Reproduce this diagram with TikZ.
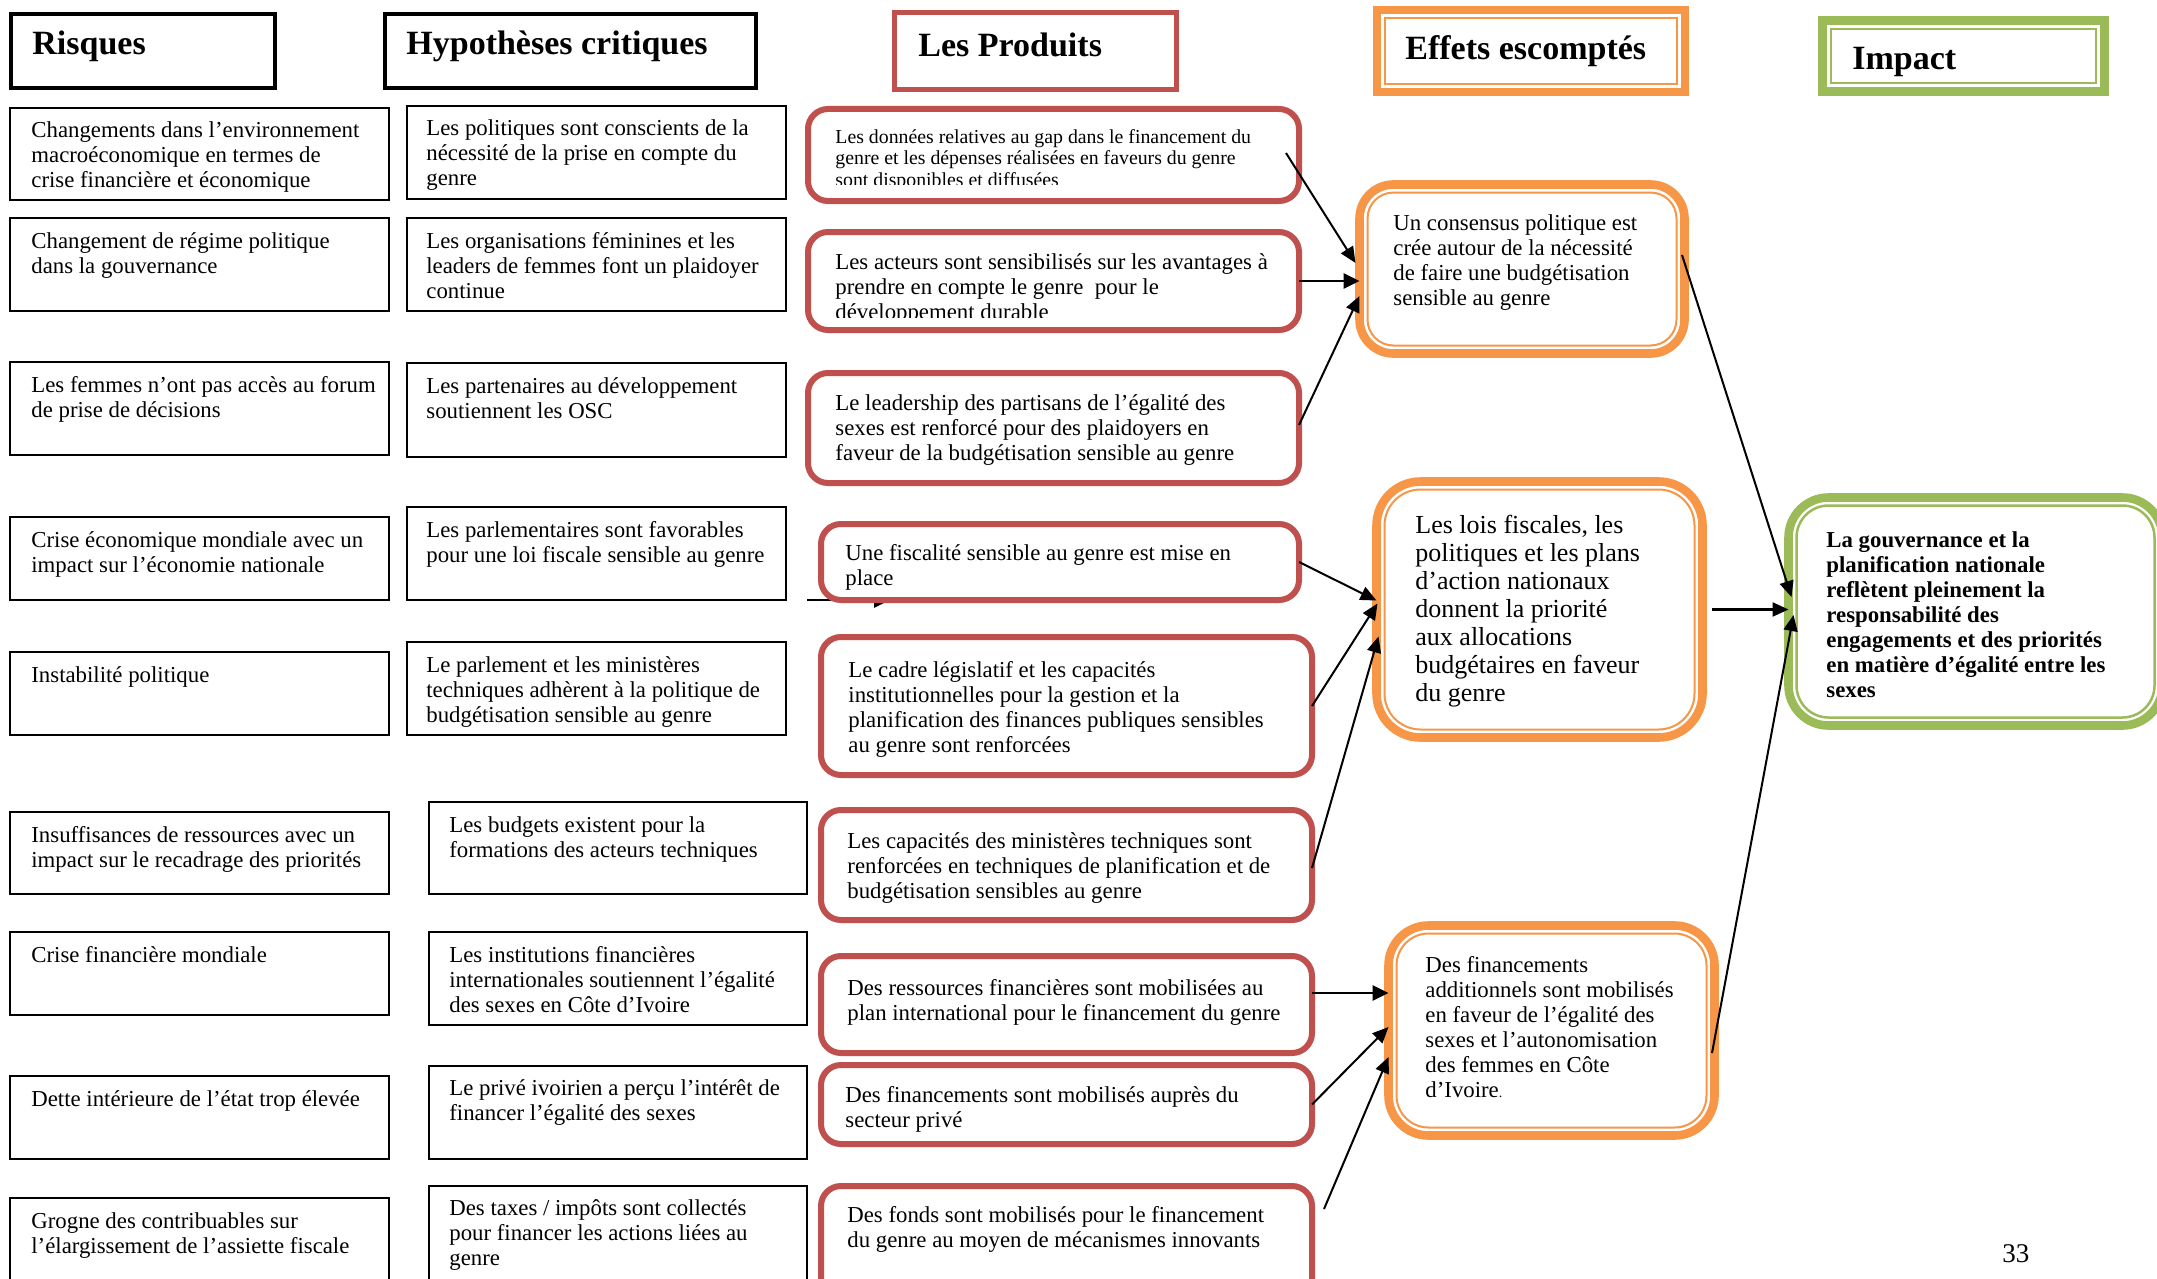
\documentclass[tikz,border=0pt]{standalone}
\usepackage{fontspec}
\setmainfont{Liberation Serif}
\usetikzlibrary{fit,arrows.meta}
\definecolor{pred}{HTML}{C0504D}
\definecolor{porange}{HTML}{F79646}
\definecolor{pgreen}{HTML}{9BBB59}
\newcommand{\fA}{\fontsize{11.4}{12.5}\selectfont}
\newcommand{\fP}{\fontsize{9.9}{10.75}\selectfont}
\newcommand{\fE}{\fontsize{13}{14}\selectfont}
\newcommand{\fH}{\fontsize{17}{20}\selectfont\bfseries}
\begin{document}
\begin{tikzpicture}[x=0.5pt,y=-0.5pt,
  bx/.style={inner sep=0pt, outer sep=0pt},
  headbox/.style={bx, draw=black, line width=2pt},
  blackbox/.style={bx, draw=black, line width=1.25pt, fill=white},
  prodbox/.style={bx, draw=pred, line width=3pt, rounded corners=10pt, fill=white},
  effbox/.style={bx, draw=porange, line width=4.3pt, fill=white},
  impbox/.style={bx, draw=pgreen, line width=4.3pt, fill=white},
  txt/.style={anchor=north west, inner sep=0pt, align=left, font=\fA},
  head/.style={anchor=base west, inner sep=0pt, font=\fH},
  arr/.style={line width=1pt, -{Triangle[length=8pt,width=7pt]}},
  harr/.style={line width=1.35pt, -{Triangle[length=8pt,width=7.5pt]}},
]
\fill[white] (0,0) rectangle (2157,1279);
\useasboundingbox (0,0) rectangle (2157,1279);

% ---------- headers ----------
\node[headbox, fit={(11,14) (275,88)}] (hr) {};
\node[head] (hrt) at (32,55) {Risques};
\node[headbox, fit={(385,14) (756,88)}] (hh) {};
\node[head] (hht) at (406,55) {Hypothèses critiques};
\node[bx, draw=pred, line width=2.5pt, fit={(894.5,12.5) (1176.5,89.5)}] (hp) {};
\node[head] (hpt) at (918,57) {Les Produits};
\node[bx, draw=porange, line width=4pt, fit={(1377,10) (1685,92)}] (he) {};
\draw[porange, line width=1pt] ([shift={(8,8)}]he.north west) rectangle ([shift={(-8,-8)}]he.south east);
\node[head] (het) at (1405,60) {Effets escomptés};
\node[bx, draw=pgreen, line width=4.5pt, fit={(1822.5,20.5) (2104.5,91.5)}] (hi) {};
\draw[pgreen, line width=1.25pt] ([shift={(8.5,8.5)}]hi.north west) rectangle ([shift={(-8.5,-8.5)}]hi.south east);
\node[head] (hit) at (1852,70) {Impact};

% ---------- risques ----------
\node[blackbox, fit={(10,108) (389,200)}] (r1) {};
\node[txt] (r1t) at (31,119.5) {\strut Changements dans l'environnement\\macroéconomique en termes de\\crise financière et économique};
\node[blackbox, fit={(10,218) (389,311)}] (r2) {};
\node[txt] (r2t) at (31,230.5) {\strut Changement de régime politique\\dans la gouvernance};
\node[blackbox, fit={(10,362) (389,455)}] (r3) {};
\node[txt] (r3t) at (31,374.5) {\strut Les femmes n’ont pas accès au forum\\de prise de décisions};
\node[blackbox, fit={(10,517) (389,600)}] (r4) {};
\node[txt] (r4t) at (31,529.5) {\strut Crise économique mondiale avec un\\impact sur l’économie nationale};
\node[blackbox, fit={(10,652) (389,735)}] (r5) {};
\node[txt] (r5t) at (31,664.5) {\strut Instabilité politique};
\node[blackbox, fit={(10,812) (389,894)}] (r6) {};
\node[txt] (r6t) at (31,824.5) {\strut Insuffisances de ressources avec un\\impact sur le recadrage des priorités};
\node[blackbox, fit={(10,932) (389,1015)}] (r7) {};
\node[txt] (r7t) at (31,944.5) {\strut Crise financière mondiale};
\node[blackbox, fit={(10,1076) (389,1159)}] (r8) {};
\node[txt] (r8t) at (31,1088.5) {\strut Dette intérieure de l’état trop élevée};
\node[blackbox, fit={(10,1198) (389,1300)}] (r9) {};
\node[txt] (r9t) at (31,1210.5) {\strut Grogne des contribuables sur\\l’élargissement de l’assiette fiscale};

% ---------- hypotheses ----------
\node[blackbox, fit={(407,106) (786,199)}] (h1) {};
\node[txt] (h1t) at (426,117.5) {\strut Les politiques sont conscients de la\\nécessité de la prise en compte du\\genre};
\node[blackbox, fit={(407,218) (786,311)}] (h2) {};
\node[txt] (h2t) at (426,230.5) {\strut Les organisations féminines et les\\leaders de femmes font un plaidoyer\\continue};
\node[blackbox, fit={(407,363) (786,457)}] (h3) {};
\node[txt] (h3t) at (426,375.5) {\strut Les partenaires au développement\\soutiennent les OSC};
\node[blackbox, fit={(407,507) (786,600)}] (h4) {};
\node[txt] (h4t) at (426,519.5) {\strut Les parlementaires sont favorables\\pour une loi fiscale sensible au genre};
\node[blackbox, fit={(407,642) (786,735)}] (h5) {};
\node[txt] (h5t) at (426,654.5) {\strut Le parlement et les ministères\\techniques adhèrent à la politique de\\budgétisation sensible au genre};
\node[blackbox, fit={(429,802) (807,894)}] (h6) {};
\node[txt] (h6t) at (449,814.5) {\strut Les budgets existent pour la\\formations des acteurs techniques};
\node[blackbox, fit={(429,932) (807,1025)}] (h7) {};
\node[txt] (h7t) at (449,944.5) {\strut Les institutions financières\\internationales soutiennent l’égalité\\des sexes en Côte d’Ivoire};
\node[blackbox, fit={(429,1066) (807,1159)}] (h8) {};
\node[txt] (h8t) at (449,1077.5) {\strut Le privé ivoirien a perçu l’intérêt de\\financer l’égalité des sexes};
\node[blackbox, fit={(429,1186) (807,1300)}] (h9) {};
\node[txt] (h9t) at (449,1197.5) {\strut Des taxes / impôts sont collectés\\pour financer les actions liées au\\genre};

% ---------- stray arrow (mostly hidden) ----------
\coordinate (s1) at (807,600);
\coordinate (s2) at (890,600);
\draw[harr] (s1) -- (s2);

% ---------- produits ----------
\node[prodbox, fit={(808,109) (1299,201)}] (p1) {};
\begin{scope}
\clip (808,109) rectangle (1299,184);
\node[txt, font=\fP] (p1t) at (835,128) {\strut Les données relatives au gap dans le financement du\\genre et les dépenses réalisées en faveurs du genre\\sont disponibles et diffusées};
\end{scope}
\node[prodbox, fit={(808,232) (1299,330)}] (p2) {};
\begin{scope}
\clip (808,232) rectangle (1299,317);
\node[txt] (p2t) at (835,251.5) {\strut Les acteurs sont sensibilisés sur les avantages à\\prendre en compte le genre \ pour le\\développement durable};
\end{scope}
\node[prodbox, fit={(808,373) (1299,483)}] (p3) {};
\node[txt] (p3t) at (835,392.5) {\strut Le leadership des partisans de l’égalité des\\sexes est renforcé pour des plaidoyers en\\faveur de la budgétisation sensible au genre};
\node[prodbox, fit={(821,524) (1299,600)}] (p4) {};
\node[txt] (p4t) at (845,542.5) {\strut Une fiscalité sensible au genre est mise en\\place};
\node[prodbox, fit={(821,637) (1312,775)}] (p5) {};
\node[txt] (p5t) at (848,659.5) {\strut Le cadre législatif et les capacités\\institutionnelles pour la gestion et la\\planification des finances publiques sensibles\\au genre sont renforcées};
\node[prodbox, fit={(821,810) (1312,920)}] (p6) {};
\node[txt] (p6t) at (847,830.5) {\strut Les capacités des ministères techniques sont\\renforcées en techniques de planification et de\\budgétisation sensibles au genre};
\node[prodbox, fit={(821,956) (1312,1053)}] (p7) {};
\node[txt] (p7t) at (847,977.5) {\strut Des ressources financières sont mobilisées au\\plan international pour le financement du genre};
\node[prodbox, fit={(821,1065) (1312,1144)}] (p8) {};
\node[txt] (p8t) at (845,1084.5) {\strut Des financements sont mobilisés auprès du\\secteur privé};
\node[prodbox, fit={(821,1186) (1312,1300)}] (p9) {};
\node[txt] (p9t) at (847,1204.5) {\strut Des fonds sont mobilisés pour le financement\\du genre au moyen de mécanismes innovants};

% ---------- effets ----------
\node[effbox, rounded corners=17pt, fit={(1359.5,184.5) (1684.5,353.5)}] (e1) {};
\draw[porange, line width=1pt, rounded corners=13pt] ([shift={(8,8)}]e1.north west) rectangle ([shift={(-8,-8)}]e1.south east);
\node[txt] (e1t) at (1393,212.5) {\strut Un consensus politique est\\crée autour de la nécessité\\de faire une budgétisation\\sensible au genre};
\node[effbox, rounded corners=22pt, fit={(1376.5,481.5) (1702.5,737.5)}] (e2) {};
\draw[porange, line width=1pt, rounded corners=18pt] ([shift={(8,8)}]e2.north west) rectangle ([shift={(-8,-8)}]e2.south east);
\node[txt, font=\fE] (e2t) at (1415,513.4) {\strut Les lois fiscales, les\\politiques et les plans\\d'action nationaux\\donnent la priorité\\aux allocations\\budgétaires en faveur\\du genre};
\node[effbox, rounded corners=20pt, fit={(1388.5,925.5) (1714.5,1135.5)}] (e3) {};
\draw[porange, line width=1pt, rounded corners=16pt] ([shift={(8,8)}]e3.north west) rectangle ([shift={(-8,-8)}]e3.south east);
\node[txt] (e3t) at (1425,954.5) {\strut Des financements\\additionnels sont mobilisés\\en faveur de l’égalité des\\sexes et l’autonomisation\\des femmes en Côte\\d'Ivoire{\scriptsize.}};

% ---------- impact ----------
\node[impbox, rounded corners=20pt, fit={(1788.5,497.5) (2162.5,725.5)}] (imp) {};
\draw[pgreen, line width=1.25pt, rounded corners=16pt] ([shift={(8,8)}]imp.north west) rectangle ([shift={(-8,-8)}]imp.south east);
\node[txt, font=\fA\bfseries] (impt) at (1826,529.5) {\strut La gouvernance et la\\planification nationale\\reflètent pleinement la\\responsabilité des\\engagements et des priorités\\en matière d'égalité entre les\\sexes};

% ---------- page number ----------
\node[anchor=base west, inner sep=0pt, font=\fontsize{13.5}{16}\selectfont] (pg) at (2002,1262) {33};

% ---------- connectors ----------
\draw[arr] ([shift={(-13,-2)}]p1.east) -- ([shift={(-4,-6)}]e1.west);
\draw[harr] (p2.east) -- (p2.east -| e1.west);
\draw[arr] ([shift={(0,-3)}]p3.east) -- ([shift={(0,27)}]e1.west);
\draw[arr] (p4.east) -- ([shift={(0,-9)}]e2.west);
\draw[arr] (p5.east) -- ([shift={(1,-6)}]e2.west);
\draw[arr] ([shift={(0,3)}]p6.east) -- ([shift={(2,27)}]e2.west);
\coordinate (a7s) at ([shift={(0,-11.5)}]p7.east);
\draw[harr] (a7s) -- (a7s -| e3.west);
\draw[arr] (p8.east) -- ([shift={(0,-3.5)}]e3.west);
\draw[arr] ([shift={(12,23)}]p9.north east) -- ([shift={(0,26.5)}]e3.west);
\draw[arr] ([shift={(-2.5,-14)}]e1.east) -- ([shift={(3,-14.5)}]imp.west);
\draw[arr, line width=1.15pt] ([shift={(9.5,0)}]e2.east) -- (e2.east -| imp.west);
\draw[arr] ([shift={(-2.5,22.5)}]e3.east) -- ([shift={(5,3.5)}]imp.west);
\end{tikzpicture}
\end{document}
